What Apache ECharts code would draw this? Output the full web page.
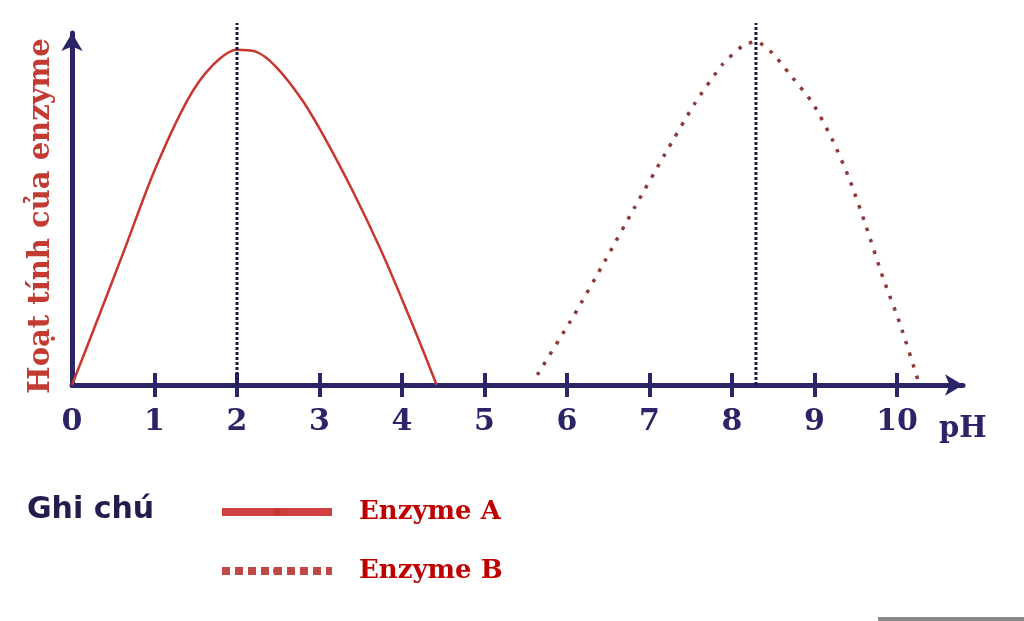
<!DOCTYPE html>
<html>
<head>
<meta charset="utf-8">
<title>Hoạt tính của enzyme theo pH</title>
<script src="https://cdn.jsdelivr.net/npm/echarts@6/dist/echarts.min.js"></script>
<style>
    html, body { margin: 0; padding: 0; background: #fff; }
    #chart { width: 1024px; height: 621px; }
</style>
</head>
<body>
<div id="chart"></div>
<script>
    // Enzyme A (đường liền)
    var phA  = [0, 0.27, 0.63, 1.0, 1.40, 1.69, 2.0, 2.22, 2.47, 2.79, 3.08, 3.40, 3.73, 4.01, 4.26, 4.42];
    var actA = [0, 17, 40, 64, 85, 95, 100, 99.5, 95, 85, 73, 58, 41, 25, 10, 0];
    // Enzyme B (đường chấm)
    var phB  = [5.64, 6.09, 6.46, 6.82, 7.19, 7.55, 7.88, 8.12, 8.29, 8.49, 8.69, 8.98, 9.22, 9.43, 9.63, 9.83, 10.04, 10.26];
    var actB = [3, 21, 37, 53, 69, 84, 95.5, 101, 102.5, 99, 93, 84, 73, 61, 47, 32, 18, 1];
    // pH tối ưu (đường thẳng đứng)
    var optimumPh = [2, 8.29];
    var optimumTop = 108;
    // vạch chia trục pH
    var tickValues = [1, 2, 3, 4, 5, 6, 7, 8, 9, 10];
    var labelValues = [0, 1, 2, 3, 4, 5, 6, 7, 8, 9, 10];

    var names = ['Enzyme A', 'Enzyme B'];
    var navy = '#2b2466';

    function zip(xs, ys) {
        var res = [];
        for (var i = 0; i < xs.length; i++) {
            res.push([xs[i], ys[i]]);
        }
        return res;
    }

    var myChart = echarts.init(document.getElementById('chart'));

    var series = [
        {
            name: names[0],
            type: 'line',
            smooth: 0.3,
            symbol: 'none',
            data: zip(phA, actA),
            lineStyle: { color: '#c8362f', width: 2.5 },
            itemStyle: { color: '#c8362f' },
            z: 3
        },
        {
            name: names[1],
            type: 'line',
            smooth: 0.2,
            symbol: 'none',
            data: zip(phB, actB),
            lineStyle: { color: '#8c3a3a', width: 3.5, type: [3.5, 8.5] },
            itemStyle: { color: '#c04848' },
            z: 3
        }
    ];
    for (var i = 0; i < optimumPh.length; i++) {
        series.push({
            name: 'opt' + i,
            type: 'line',
            symbol: 'none',
            clip: false,
            silent: true,
            data: [[optimumPh[i], 0], [optimumPh[i], optimumTop]],
            lineStyle: { color: '#1c1a3e', width: 3, type: [3, 2] },
            z: 4
        });
    }

    var option = {
        backgroundColor: '#fff',
        animation: false,
        grid: { left: 72, right: 61, top: 33, bottom: 236, outerBoundsMode: 'none' },
        legend: {
            orient: 'vertical',
            left: 213,
            top: 494,
            itemWidth: 110,
            itemHeight: 10,
            itemGap: 33,
            selectedMode: false,
            data: [
                { name: names[0], lineStyle: { width: 8, color: '#d04040', type: 'solid' } },
                { name: names[1], lineStyle: { width: 8, color: '#c04848', type: [8, 5] } }
            ],
            textStyle: {
                fontFamily: 'DejaVu Serif',
                fontWeight: 'bold',
                fontSize: 26,
                color: '#c00000',
                padding: [0, 0, 0, 22]
            }
        },
        xAxis: [
            {
                type: 'value',
                min: 0,
                max: 10.8,
                interval: 1,
                position: 'bottom',
                name: 'pH',
                nameLocation: 'end',
                nameGap: -24,
                nameTextStyle: {
                    fontFamily: 'DejaVu Serif',
                    fontWeight: 'bold',
                    fontSize: 29,
                    color: navy,
                    align: 'left',
                    verticalAlign: 'top',
                    padding: [30, 0, 0, 0]
                },
                axisLine: {
                    show: true,
                    symbol: ['none', 'arrow'],
                    symbolSize: [16, 18],
                    lineStyle: { color: navy, width: 5 }
                },
                axisTick: {
                    show: true,
                    length: 12,
                    customValues: tickValues,
                    lineStyle: { color: navy, width: 4 }
                },
                axisLabel: {
                    margin: 22,
                    customValues: labelValues,
                    fontFamily: 'DejaVu Serif',
                    fontWeight: 'bold',
                    fontSize: 30,
                    color: navy
                },
                splitLine: { show: false }
            },
            {
                type: 'value',
                min: 0,
                max: 10.8,
                interval: 1,
                position: 'bottom',
                axisLine: { show: false },
                axisTick: {
                    show: true,
                    inside: true,
                    length: 12,
                    customValues: tickValues,
                    lineStyle: { color: navy, width: 4 }
                },
                axisLabel: { show: false },
                splitLine: { show: false }
            }
        ],
        yAxis: {
            type: 'value',
            min: 0,
            max: 105,
            name: 'Hoạt tính của enzyme',
            nameLocation: 'middle',
            nameRotate: 90,
            nameGap: 16,
            nameTextStyle: {
                fontFamily: 'DejaVu Serif',
                fontWeight: 'bold',
                fontSize: 29,
                color: '#c23a32',
                padding: [0, 14, 0, 0]
            },
            axisLine: {
                show: true,
                symbol: ['none', 'arrow'],
                symbolSize: [16, 18],
                lineStyle: { color: navy, width: 5 }
            },
            axisTick: { show: false },
            axisLabel: { show: false },
            splitLine: { show: false }
        },
        graphic: [
            {
                type: 'text',
                left: 27,
                top: 495,
                style: {
                    text: 'Ghi chú',
                    font: 'bold 30px "DejaVu Sans"',
                    fill: '#221d4d'
                }
            },
            {
                type: 'rect',
                right: 0,
                bottom: 0,
                shape: { width: 146, height: 4 },
                style: { fill: '#8a8a8a' }
            }
        ],
        series: series
    };
    myChart.setOption(option);
</script>
</body>
</html>
